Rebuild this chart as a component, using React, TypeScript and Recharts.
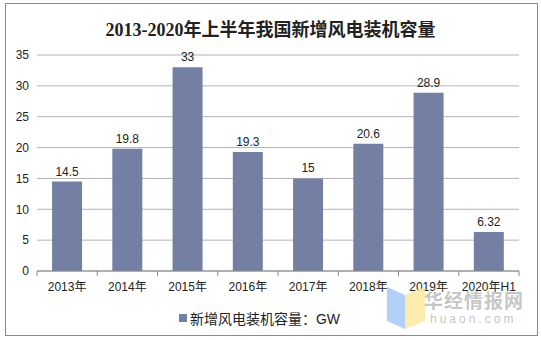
import React from 'react';
import { BarChart, Bar, XAxis, YAxis, CartesianGrid, LabelList, Legend } from 'recharts';

const years = ['2013年', '2014年', '2015年', '2016年', '2017年', '2018年', '2019年', '2020年H1'];
const capacity = [14.5, 19.8, 33, 19.3, 15, 20.6, 28.9, 6.32];
const yTicks = [0, 5, 10, 15, 20, 25, 30, 35];
const seriesName = '新增风电装机容量：GW';

const data = years.map((year, i) => ({ year, value: capacity[i] }));

const FONT = '"Liberation Sans", Arial, "Noto Sans CJK SC", sans-serif';
const BAR = '#7480a3';
const HALF_BAND = (519 - 37) / years.length / 2;

// tick marks sit on the category boundaries, not the centres
const XTick = (props: any) => {
  const { x, y, payload, index } = props;
  const last = index === years.length - 1;
  return (
    <g>
      <line x1={x - HALF_BAND} x2={x - HALF_BAND} y1={y - 8} y2={y - 3} stroke="#888" />
      {last && <line x1={x + HALF_BAND} x2={x + HALF_BAND} y1={y - 8} y2={y - 3} stroke="#888" />}
      <text x={x} y={y + 12} textAnchor="middle" fontSize={12} fill="#222" fontFamily={FONT}>
        {payload.value}
      </text>
    </g>
  );
};

const LegendContent = () => (
  <div style={{ display: 'flex', justifyContent: 'center', alignItems: 'center', height: 20, fontFamily: FONT, fontSize: 14, color: '#222' }}>
    <span style={{ display: 'inline-block', width: 8, height: 8, background: BAR, marginRight: 3 }} />
    <span>{seriesName}</span>
  </div>
);

export default function App() {
  return (
    <div style={{ position: 'absolute', left: 0, top: 0, width: 541, height: 340, background: '#fff' }}>
      <div style={{ position: 'absolute', left: 5, top: 3, width: 531, height: 331, border: '1px solid #8a8a8a' }} />
      <div style={{ position: 'absolute', left: 0, top: 15, width: 541, textAlign: 'center', fontFamily: '"Liberation Serif", "Noto Sans CJK SC", serif', fontWeight: 'bold', fontSize: 18, color: '#222' }}>
        2013-2020年上半年我国新增风电装机容量
      </div>
      <BarChart
        width={541}
        height={340}
        data={data}
        margin={{ top: 55, right: 22, left: 0, bottom: 19 }}
        barCategoryGap="25%"
        style={{ position: 'absolute', left: 0, top: 0 }}
      >
        <CartesianGrid vertical={false} stroke="#b3b3b3" />
        <XAxis dataKey="year" height={30} axisLine={{ stroke: '#888' }} tickLine={false} tick={<XTick />} interval={0} />
        <YAxis
          width={37}
          domain={[0, 35]}
          ticks={yTicks}
          axisLine={false}
          tickLine={false}
          tick={{ fontSize: 12, fill: '#222', fontFamily: FONT }}
        />
        <Legend verticalAlign="bottom" content={<LegendContent />} wrapperStyle={{ height: 20, bottom: 12 }} />
        <Bar dataKey="value" name={seriesName} fill={BAR} isAnimationActive={false}>
          <LabelList dataKey="value" position="top" offset={6} fontSize={12} fill="#222" fontFamily={FONT} />
        </Bar>
      </BarChart>
      <svg width={60} height={50} style={{ position: 'absolute', left: 385, top: 285 }}>
        <polygon points="2,2 20,10 20,44 2,36" fill="#a7c8f5" opacity={0.85} />
        <polygon points="20,10 40,2 40,36 20,44" fill="#fbe9a0" opacity={0.85} />
      </svg>
      <div style={{ position: 'absolute', left: 424, top: 286, fontFamily: '"Noto Sans CJK SC", sans-serif', fontWeight: 'bold', fontSize: 19, color: 'rgba(160,160,160,0.6)', letterSpacing: 1 }}>
        华经情报网
      </div>
      <div style={{ position: 'absolute', left: 430, top: 312, fontFamily: FONT, fontSize: 12, color: 'rgba(170,170,170,0.7)', letterSpacing: 3 }}>
        huaon.com
      </div>
    </div>
  );
}
